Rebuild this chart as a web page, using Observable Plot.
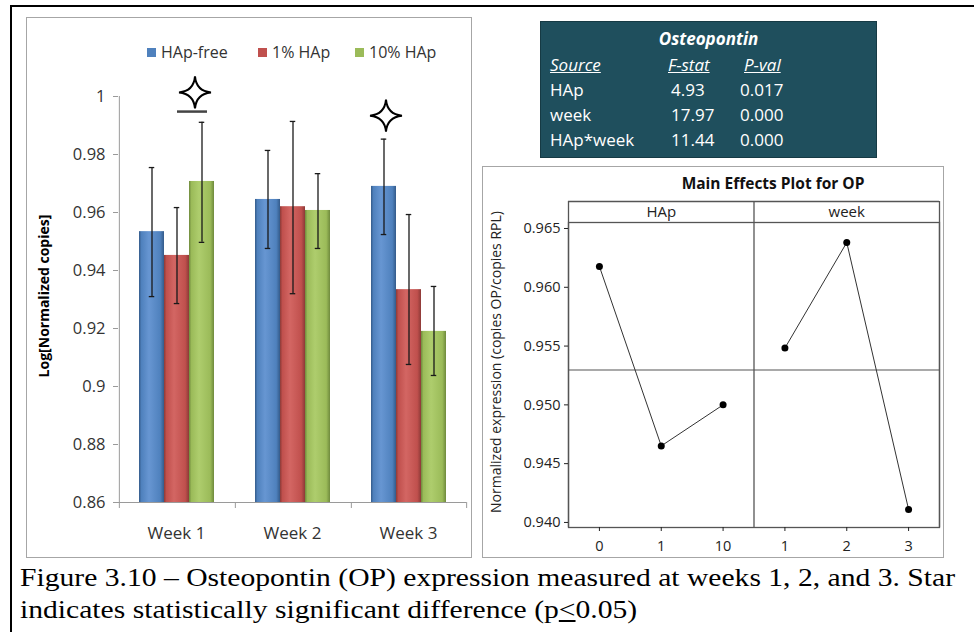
<!DOCTYPE html>
<html><head><meta charset="utf-8">
<script src="https://cdn.jsdelivr.net/npm/d3@7"></script>
<script src="https://cdn.jsdelivr.net/npm/@observablehq/plot@0.6"></script>
<style>
html,body{margin:0;padding:0;background:#fff;}
#page{position:relative;width:974px;height:632px;overflow:hidden;font-family:"Open Sans",sans-serif;color:#333;}
.abs{position:absolute;}
.panel{position:absolute;box-sizing:border-box;border:1px solid #a6a6a6;background:#fff;}
svg{position:absolute;overflow:visible;}
.leg{position:absolute;top:43px;font-size:16px;color:#333;white-space:nowrap;line-height:18px;}
.sw{display:inline-block;width:9px;height:9px;margin-right:5px;vertical-align:1px;}
#tbl{position:absolute;left:540px;top:21px;width:337px;height:137px;box-sizing:border-box;background:#1f4f5d;border:1px solid #163a44;color:#fff;font-size:17px;}
#tbl div{position:absolute;white-space:nowrap;line-height:20px;}
.cap{position:absolute;left:20px;font-size:26px;color:#000;white-space:nowrap;transform-origin:0 0;line-height:30px;}
</style></head><body><div id="page"></div>
<script>
// ---------- data: bar chart ----------
const weeks = ["Week 1", "Week 2", "Week 3"];
const groups = ["HAp-free", "1% HAp", "10% HAp"];
const meanHApFree = [0.9534, 0.9645, 0.9690];
const mean1HAp    = [0.9452, 0.9620, 0.9334];
const mean10HAp   = [0.9707, 0.9607, 0.9190];
const hiHApFree = [0.9755, 0.9814, 0.9853];
const hi1HAp    = [0.9617, 0.9914, 0.9593];
const hi10HAp   = [0.9911, 0.9734, 0.9345];
const loHApFree = [0.9310, 0.9476, 0.9524];
const lo1HAp    = [0.9286, 0.9320, 0.9076];
const lo10HAp   = [0.9497, 0.9476, 0.9038];
const barTicks = [0.86, 0.88, 0.90, 0.92, 0.94, 0.96, 0.98, 1.00];
const barDomain = [0.86, 1.0];
const starWeeks = ["Week 1", "Week 3"];
const starGroups = ["10% HAp", "HAp-free"];
const starY = [1.0014, 0.9934];
const bracketY = 0.9948;

// ---------- data: ANOVA table ----------
const anovaSource = ["HAp", "week", "HAp*week"];
const anovaF = ["4.93", "17.97", "11.44"];
const anovaP = ["0.017", "0.000", "0.000"];

// ---------- data: main effects ----------
const factorNames = ["HAp", "week"];
const hapLevels = ["0", "1", "10"];
const hapMeans = [0.96177, 0.94651, 0.95000];
const weekLevels = ["1", "2", "3"];
const weekMeans = [0.95483, 0.96381, 0.94111];
const grandMean = 0.95296;
const effectTicks = [0.940, 0.945, 0.950, 0.955, 0.960, 0.965];
const effectDomain = [0.93957, 0.96551];

const page = document.getElementById("page");
function add(html) { page.insertAdjacentHTML("beforeend", html); }

// pick an installed Times-like serif
function pickFont(cands) {
  const ctx = document.createElement("canvas").getContext("2d");
  const s = "Figure 3.10 – Osteopontin expression wWiI";
  ctx.font = "40px monospace"; const mono = ctx.measureText(s).width;
  ctx.font = "40px sans-serif"; const sans = ctx.measureText(s).width;
  for (const f of cands) {
    ctx.font = `40px "${f}", monospace`; const a = ctx.measureText(s).width;
    ctx.font = `40px "${f}", sans-serif`; const b = ctx.measureText(s).width;
    if (a !== mono && b !== sans) return f;
  }
  return "serif";
}
const serifFont = pickFont(["Liberation Serif", "Times New Roman", "Tinos", "Nimbus Roman", "Nimbus Roman No9 L", "FreeSerif", "DejaVu Serif"]);

// outer frame
add('<div class="abs" style="left:10px;top:5px;width:980px;height:640px;border-top:2px solid #000;border-left:2px solid #000;"></div>');
// panels
add('<div class="panel" style="left:26px;top:17px;width:446px;height:541px;"></div>');
add('<div class="panel" style="left:482px;top:166px;width:462px;height:392px;"></div>');

// ---------- left bar chart ----------
const means = [meanHApFree, mean1HAp, mean10HAp];
const his = [hiHApFree, hi1HAp, hi10HAp];
const los = [loHApFree, lo1HAp, lo10HAp];
const rows = groups.flatMap((g, gi) => weeks.map((w, wi) => ({week: w, group: g, value: means[gi][wi], hi: his[gi][wi], lo: los[gi][wi]})));
const stars = starWeeks.map((w, i) => ({week: w, group: starGroups[i], y: starY[i]}));

const L = {width: 446, height: 540, ml: 91, mr: 6, mt: 79, mb: 55};
const padOuter = 0.78;
const facetW = (L.width - L.ml - L.mr) / weeks.length;
const step = facetW / (groups.length + 2 * padOuter);
const edgeOff = step * padOuter + step / 2;
const capInset = (step - 6) / 2;
const axisGray = "#9a9a9a";

const star4 = {
  draw(ctx, size) {
    const R = Math.sqrt(size / Math.PI);
    const c = R * 0.08;
    ctx.moveTo(0, -R);
    ctx.quadraticCurveTo(c, -c, R, 0);
    ctx.quadraticCurveTo(c, c, 0, R);
    ctx.quadraticCurveTo(-c, c, -R, 0);
    ctx.quadraticCurveTo(-c, -c, 0, -R);
    ctx.closePath();
  }
};

const leftSvg = Plot.plot({
  width: L.width, height: L.height,
  marginLeft: L.ml, marginRight: L.mr, marginTop: L.mt, marginBottom: L.mb,
  style: {fontFamily: "Open Sans", fontSize: "16px", color: "#333", background: "transparent", overflow: "visible"},
  fx: {domain: weeks, padding: 0, label: null},
  x: {domain: groups, paddingInner: 0, paddingOuter: padOuter, axis: null},
  y: {domain: barDomain, label: null},
  color: {domain: groups, range: ["url(#gBlue)", "url(#gRed)", "url(#gGreen)"]},
  marks: [
    Plot.ruleY([barDomain[0]], {stroke: axisGray}),
    Plot.ruleX([weeks[0]], {fx: d => d, x: () => groups[0], dx: -edgeOff, y1: barDomain[0], y2: barDomain[1], stroke: axisGray}),
    Plot.ruleX(weeks, {fx: d => d, x: () => groups[0], dx: -edgeOff, y1: barDomain[0], y2: barDomain[0], insetBottom: -6, stroke: axisGray}),
    Plot.ruleX([weeks[weeks.length - 1]], {fx: d => d, x: () => groups[groups.length - 1], dx: edgeOff, y1: barDomain[0], y2: barDomain[0], insetBottom: -6, stroke: axisGray}),
    Plot.barY(rows, {fx: "week", x: "group", y1: barDomain[0], y2: "value", fill: "group"}),
    Plot.ruleX(rows, {fx: "week", x: "group", y1: "lo", y2: "hi", stroke: "#1a1a1a", strokeWidth: 1.3}),
    Plot.tickY(rows, {fx: "week", x: "group", y: "hi", insetLeft: capInset, insetRight: capInset, stroke: "#1a1a1a", strokeWidth: 1.3}),
    Plot.tickY(rows, {fx: "week", x: "group", y: "lo", insetLeft: capInset, insetRight: capInset, stroke: "#1a1a1a", strokeWidth: 1.3}),
    Plot.tickY([bracketY], {fx: () => starWeeks[0], x: () => starGroups[0], y: d => d, insetLeft: -12, insetRight: 7, stroke: "#444", strokeWidth: 2.5}),
    Plot.dot([stars[0]], {fx: "week", x: "group", y: "y", symbol: star4, r: 16, fill: "white", stroke: "black", strokeWidth: 2, dx: -7}),
    Plot.dot([stars[1]], {fx: "week", x: "group", y: "y", symbol: star4, r: 16, fill: "white", stroke: "black", strokeWidth: 2, dx: 2}),
    Plot.axisY({ticks: barTicks, tickFormat: d => String(+d.toFixed(2)), tickSize: 5, tickPadding: 8, stroke: axisGray, fill: "#333", fontSize: 16.5, label: null}),
    Plot.axisFx({anchor: "bottom", tickSize: 0, tickPadding: 24, fontSize: 17, fill: "#333", label: null})
  ]
});
leftSvg.style.left = "26px"; leftSvg.style.top = "17px";
const defs = d3.select(leftSvg).insert("defs", ":first-child");
[["gBlue", "#345b8a", "#4f81bd", "#6796d2"], ["gRed", "#8c3a37", "#c0504d", "#d36663"], ["gGreen", "#6f8a3d", "#9bbb59", "#aecd6d"]].forEach(([id, dark, base, light]) => {
  const g = defs.append("linearGradient").attr("id", id).attr("x1", "0").attr("x2", "1").attr("y1", "0").attr("y2", "0");
  [[0, dark], [0.1, base], [0.4, light], [0.85, base], [1, dark]].forEach(([o, c]) => g.append("stop").attr("offset", o).attr("stop-color", c));
});
page.appendChild(leftSvg);

// legend
const legX = [147, 258, 355];
const legC = ["#4f81bd", "#c0504d", "#9bbb59"];
groups.forEach((g, i) => add(`<div class="leg" style="left:${legX[i]}px"><span class="sw" style="background:${legC[i]}"></span>${g}</div>`));
// y label
add('<div class="abs" style="left:43px;top:296px;transform:translate(-50%,-50%) rotate(-90deg);font-weight:bold;font-size:14px;white-space:nowrap;color:#000;">Log[Normalized copies]</div>');

// ---------- ANOVA table ----------
let t = '<div id="tbl">';
t += '<div style="left:0;width:335px;text-align:center;top:7px;font-weight:bold;font-style:italic;">Osteopontin</div>';
t += '<div style="left:9px;top:33px;font-style:italic;text-decoration:underline;">Source</div>';
t += '<div style="left:127px;top:33px;font-style:italic;text-decoration:underline;">F-stat</div>';
t += '<div style="left:203px;top:33px;font-style:italic;text-decoration:underline;">P-val</div>';
anovaSource.forEach((s, i) => {
  const top = 58 + i * 25;
  t += `<div style="left:9px;top:${top}px;">${s}</div>`;
  t += `<div style="left:130px;top:${top}px;">${anovaF[i]}</div>`;
  t += `<div style="left:199px;top:${top}px;">${anovaP[i]}</div>`;
});
t += '</div>';
add(t);

// ---------- main effects plot ----------
const effects = [
  ...hapLevels.map((l, i) => ({factor: factorNames[0], level: l, idx: i, mean: hapMeans[i]})),
  ...weekLevels.map((l, i) => ({factor: factorNames[1], level: l, idx: hapLevels.length + i, mean: weekMeans[i]}))
];
const nAll = effects.length;
const factors = [
  {name: factorNames[0], c: (hapLevels.length - 1) / 2},
  {name: factorNames[1], c: hapLevels.length + (weekLevels.length - 1) / 2}
];
const R = {width: 461, height: 391, ml: 86, mr: 4, mt: 56, mb: 30};
const lineC = "#555";
const rightSvg = Plot.plot({
  width: R.width, height: R.height,
  marginLeft: R.ml, marginRight: R.mr, marginTop: R.mt, marginBottom: R.mb,
  style: {fontFamily: "Open Sans", fontSize: "14.5px", color: "#222", background: "transparent", overflow: "visible"},
  x: {domain: [-0.5, nAll - 0.5], axis: null},
  y: {domain: effectDomain, axis: null},
  marks: [
    Plot.frame({stroke: lineC, strokeWidth: 1.3}),
    Plot.ruleX([-0.5, hapLevels.length - 0.5, nAll - 0.5], {insetTop: -21, stroke: lineC, strokeWidth: 1.3}),
    Plot.ruleY([effectDomain[1]], {dy: -21, stroke: lineC, strokeWidth: 1.3}),
    Plot.ruleY([grandMean], {stroke: lineC, strokeWidth: 1.1}),
    Plot.line(effects, {x: "idx", y: "mean", z: "factor", stroke: "#333", strokeWidth: 1}),
    Plot.dot(effects, {x: "idx", y: "mean", r: 3.5, fill: "#000"}),
    Plot.text(factors, {x: "c", text: "name", frameAnchor: "top", lineAnchor: "middle", dy: -10.5, fontSize: 15}),
    Plot.axisX({ticks: effects.map(d => d.idx), tickFormat: i => effects[i].level, tickSize: 4, tickPadding: 9, label: null}),
    Plot.axisY({ticks: effectTicks, tickFormat: d3.format(".3f"), tickSize: 4, tickPadding: 4, label: null})
  ]
});
rightSvg.style.left = "482px"; rightSvg.style.top = "166px";
page.appendChild(rightSvg);
add('<div class="abs" style="left:773px;top:183px;transform:translate(-50%,-50%);font-weight:bold;font-size:15.5px;white-space:nowrap;color:#111;">Main Effects Plot for OP</div>');
add('<div class="abs" style="left:495px;top:362px;transform:translate(-50%,-50%) rotate(-90deg);font-size:14px;white-space:nowrap;color:#222;">Normalized expression (copies OP/copies RPL)</div>');

// ---------- caption ----------
add(`<div class="cap" id="cap1" style="top:563px;font-family:'${serifFont}',serif;">Figure 3.10 – Osteopontin (OP) expression measured at weeks 1, 2, and 3. Star</div>`);
add(`<div class="cap" id="cap2" style="top:595px;font-family:'${serifFont}',serif;">indicates statistically significant difference (p<u>&lt;</u>0.05)</div>`);
const c1 = document.getElementById("cap1"), c2 = document.getElementById("cap2");
const k = 935 / c1.getBoundingClientRect().width;
c1.style.transform = `scaleX(${k})`;
c2.style.transform = `scaleX(${k})`;
</script>
</body></html>
